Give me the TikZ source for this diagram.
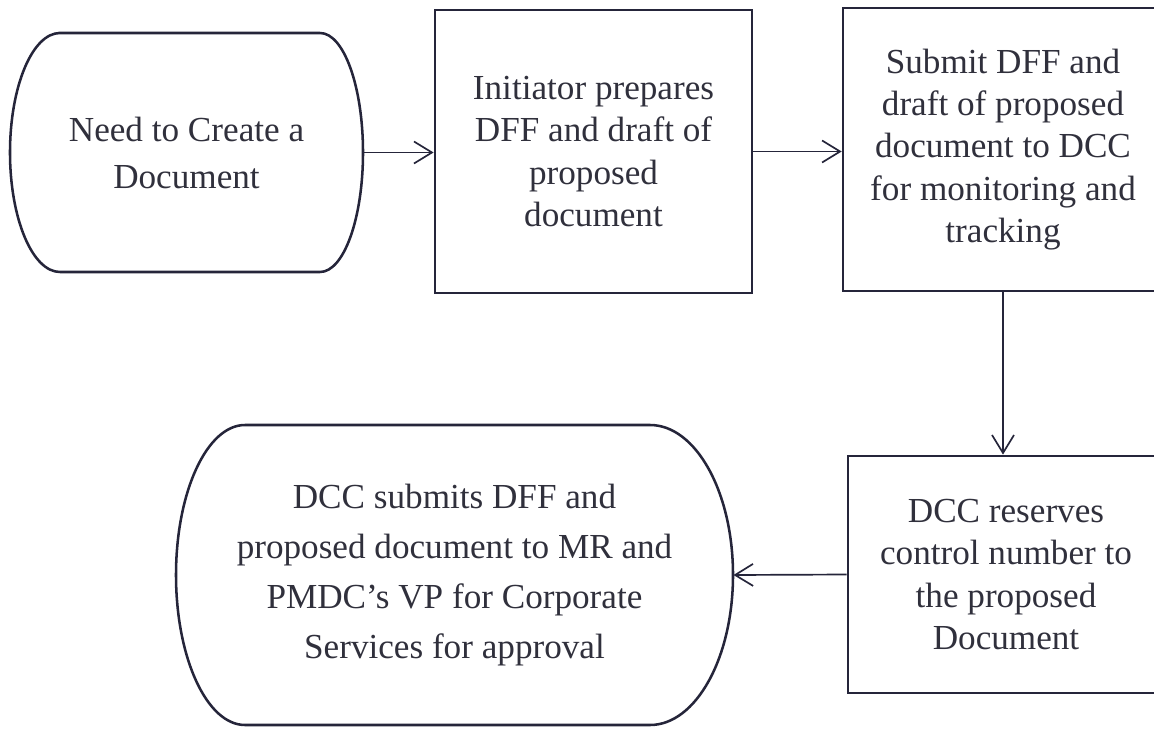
\documentclass[tikz,border=0pt]{standalone}
\usepackage{fontspec}
\setmainfont{Liberation Serif}
\usetikzlibrary{arrows.meta}
\definecolor{inkline}{HTML}{25253A}
\definecolor{inktext}{HTML}{30303C}
\begin{document}
\begin{tikzpicture}[x=0.025cm, y=-0.025cm,
  box/.style={draw=inkline, line width=1.8pt, align=center, text=inktext,
    font=\fontsize{25}{30}\selectfont, inner sep=0pt},
  termtext/.style={align=center, text=inktext, inner sep=0pt},
  termline/.style={draw=inkline, line width=1.8pt},
  conn/.style={draw=inkline, line width=1.2pt, -{Straight Barb[length=4.5mm, width=5.5mm]}}]
  \useasboundingbox (0,0) rectangle (1154,728);
  \draw[termline] (60,33) -- (320,33) arc[start angle=-90, end angle=90, x radius=43, y radius=119.5]
    -- (60,272) arc[start angle=90, end angle=270, x radius=50, y radius=119.5] -- cycle;
  \node[termtext, minimum width=8.83cm, minimum height=5.98cm, font=\fontsize{25}{33.4}\selectfont]
    (need) at (186.5,152.5) {Need to Create a\\Document};
  \node[box, minimum width=7.93cm, minimum height=7.08cm] (prep) at (593.5,151.5)
    {Initiator prepares\\DFF and draft of\\proposed\\document};
  \node[box, minimum width=8cm, minimum height=7.08cm] (submit) at (1003,149.5)
    {Submit DFF and\\draft of proposed\\document to DCC\\for monitoring and\\tracking};
  \node[box, minimum width=7.9cm, minimum height=5.93cm] (reserve) at (1006,574.5)
    {DCC reserves\\control number to\\the proposed\\Document};
  \draw[termline] (245,425) -- (650,425) arc[start angle=-90, end angle=90, x radius=83, y radius=150]
    -- (245,725) arc[start angle=90, end angle=270, x radius=69, y radius=150] -- cycle;
  \node[termtext, minimum width=13.93cm, minimum height=7.5cm, font=\fontsize{25}{35.6}\selectfont]
    (approve) at (454.5,575) {DCC submits DFF and\\proposed document to MR and\\PMDC's VP for Corporate\\Services for approval};
  \draw[conn] (need.east) -- (need.east -| prep.west);
  \draw[conn] (prep.east) -- (prep.east -| submit.west);
  \draw[conn] (submit.south -| 1003,0) -- (1003,0 |- reserve.north);
  \draw[conn] (reserve.west) -- (approve.east);
\end{tikzpicture}
\end{document}
